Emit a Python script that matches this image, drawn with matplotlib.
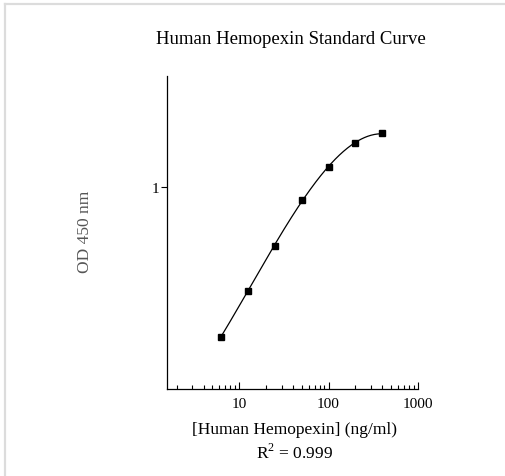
import numpy as np
import matplotlib
matplotlib.use("Agg")
import matplotlib.pyplot as plt
from matplotlib.lines import Line2D
from matplotlib.ticker import LogLocator, NullFormatter, FixedLocator

conc = [6.25, 12.5, 25, 50, 100, 200, 400]
od = [0.146, 0.264, 0.468, 0.853, 1.30, 1.77, 2.00]
x_ticks = [10, 100, 1000]
y_ticks = [1]
title = "Human Hemopexin Standard Curve"
xlabel = "[Human Hemopexin] (ng/ml)"
ylabel = "OD 450 nm"
r2_text = "R$^2$ = 0.999"

plt.rcParams['font.family'] = ['Liberation Serif', 'DejaVu Serif']
plt.rcParams['mathtext.fontset'] = 'custom'
plt.rcParams['mathtext.rm'] = 'Liberation Serif'

fig = plt.figure(figsize=(5.06, 4.77), dpi=100)
ax = fig.add_axes([0.3295, 0.1824, 0.4965, 0.6562])

# smooth fit in log-log space
lx = np.log10(conc)
ly = np.log10(od)
coef = np.polyfit(lx, ly, 3)
xs = np.linspace(lx[0], lx[-1], 200)
ax.plot(10**xs, 10**np.polyval(coef, xs), color='black', lw=0.9)
ax.plot(conc, od, 's', color='black', markersize=4)

ax.set_xscale('log')
ax.set_yscale('log')
ax.set_xlim(1.55, 1000)
ax.set_ylim(0.0746, 4.19)

ax.xaxis.set_major_locator(FixedLocator(x_ticks))
ax.set_xticklabels([str(t) for t in x_ticks])
ax.xaxis.set_minor_locator(LogLocator(base=10, subs=np.arange(2, 10)))
ax.xaxis.set_minor_formatter(NullFormatter())
ax.yaxis.set_major_locator(FixedLocator(y_ticks))
ax.set_yticklabels([str(t) for t in y_ticks])
ax.yaxis.set_minor_locator(FixedLocator([]))

ax.tick_params(axis='x', which='major', direction='in', length=5, width=0.8, labelsize=11, pad=6)
ax.tick_params(axis='x', which='minor', direction='in', length=3, width=0.8)
ax.tick_params(axis='y', which='major', direction='out', length=4, width=0.8, labelsize=11, pad=1.5)

for s in ['top', 'right']:
    ax.spines[s].set_visible(False)
for s in ['left', 'bottom']:
    ax.spines[s].set_linewidth(0.9)

fig.text(0.575, 1 - 40/477, title, ha='center', va='center', fontsize=13.5)
fig.text(0.583, 1 - 430/477, xlabel, ha='center', va='center', fontsize=12.5)
fig.text(0.583, 1 - 453/477, r2_text, ha='center', va='center', fontsize=12.5)
fig.text(85/506, 1 - 232/477, ylabel, ha='center', va='center', rotation=90, fontsize=12.5, color='#555555')

# light frame lines
fig.add_artist(Line2D([5.5/506, 5.5/506], [0, 1 - 5/477], transform=fig.transFigure, color='#dcdcdc', lw=1.6))
fig.add_artist(Line2D([5.5/506, 1], [1 - 5/477, 1 - 5/477], transform=fig.transFigure, color='#dcdcdc', lw=1.6))

fig.savefig('out.png', dpi=100)
